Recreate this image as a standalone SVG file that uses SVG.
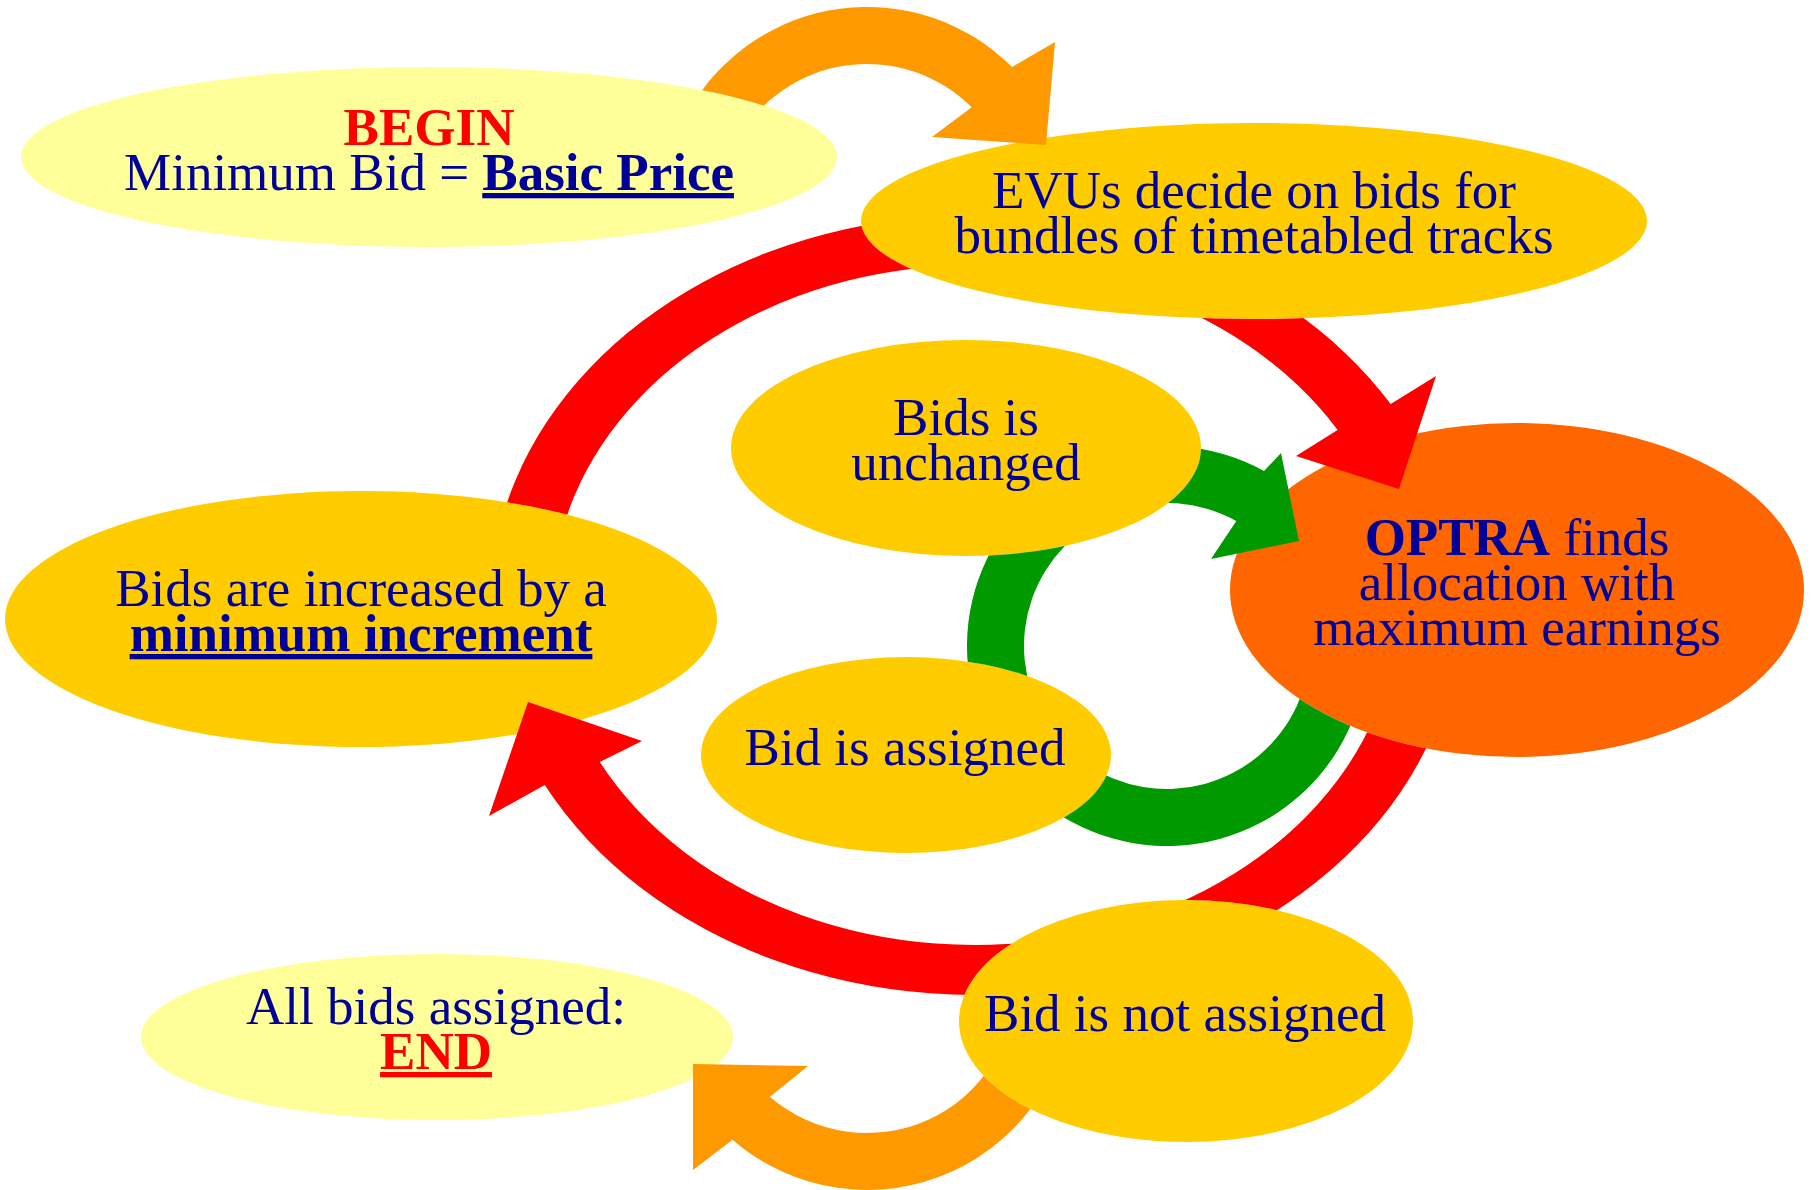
<svg xmlns="http://www.w3.org/2000/svg" width="1814" height="1190" viewBox="0 0 1814 1190">
<style>
.t{font-family:"Liberation Serif","Times New Roman",serif;font-size:53px;fill:#000099;text-anchor:middle}
.b{font-weight:bold}
.u{text-decoration:underline}
.r{fill:#FF0000}
.lt{fill:#FFFF99}
.gd{fill:#FFCC00}
.or{fill:#FF6600}
.red{fill:#FF0000}
.grn{fill:#009900}
.ora{fill:#FF9900}
</style>
<defs>
<mask id="mTR" maskUnits="userSpaceOnUse" x="0" y="0" width="1814" height="1190">
<rect width="1814" height="1190" fill="#fff"/>
<ellipse cx="361" cy="619" rx="356" ry="128" fill="#000"/>
<ellipse cx="1254" cy="221" rx="393" ry="98" fill="#000"/>
</mask>
<mask id="mBR" maskUnits="userSpaceOnUse" x="0" y="0" width="1814" height="1190">
<rect width="1814" height="1190" fill="#fff"/>
<ellipse cx="1517" cy="590" rx="287" ry="167" fill="#000"/>
<ellipse cx="1186" cy="1021" rx="227" ry="121" fill="#000"/>
</mask>
<mask id="mG" maskUnits="userSpaceOnUse" x="0" y="0" width="1814" height="1190">
<rect width="1814" height="1190" fill="#fff"/>
<ellipse cx="1517" cy="590" rx="287" ry="167" fill="#000"/>
<ellipse cx="966" cy="448" rx="235" ry="108" fill="#000"/>
<ellipse cx="906" cy="755" rx="205" ry="98" fill="#000"/>
<polygon points="1262,468 1282,450 1302,543 1208,562 1233,522" fill="#fff"/>
</mask>
<mask id="mOT" maskUnits="userSpaceOnUse" x="0" y="0" width="1814" height="1190">
<rect width="1814" height="1190" fill="#fff"/>
<ellipse cx="429" cy="157" rx="408" ry="90" fill="#000"/>
</mask>
<mask id="mOB" maskUnits="userSpaceOnUse" x="0" y="0" width="1814" height="1190">
<rect width="1814" height="1190" fill="#fff"/>
<ellipse cx="1186" cy="1021" rx="227" ry="121" fill="#000"/>
</mask>
</defs>
<rect width="1814" height="1190" fill="#fff"/>
<g id="nodes">
<g id="begin">
<ellipse class="lt" cx="429" cy="157" rx="408" ry="90"/>
<text class="t"><tspan class="b r" x="429" y="145">BEGIN</tspan><tspan x="429" y="190">Minimum Bid = <tspan class="b u">Basic Price</tspan></tspan></text>
</g>
<g id="evus">
<ellipse class="gd" cx="1254" cy="221" rx="393" ry="98"/>
<text class="t"><tspan x="1254" y="208">EVUs decide on bids for</tspan><tspan x="1254" y="253">bundles of timetabled tracks</tspan></text>
</g>
<g id="unchanged">
<ellipse class="gd" cx="966" cy="448" rx="235" ry="108"/>
<text class="t"><tspan x="966" y="435">Bids is</tspan><tspan x="966" y="480">unchanged</tspan></text>
</g>
<g id="optra">
<ellipse class="or" cx="1517" cy="590" rx="287" ry="167"/>
<text class="t"><tspan x="1517" y="555"><tspan class="b">OPTRA</tspan> finds</tspan><tspan x="1517" y="600">allocation with</tspan><tspan x="1517" y="645">maximum earnings</tspan></text>
</g>
<g id="increased">
<ellipse class="gd" cx="361" cy="619" rx="356" ry="128"/>
<text class="t"><tspan x="361" y="606">Bids are increased by a</tspan><tspan class="b u" x="361" y="651">minimum increment</tspan></text>
</g>
<g id="assigned">
<ellipse class="gd" cx="906" cy="755" rx="205" ry="98"/>
<text class="t" x="905" y="765">Bid is assigned</text>
</g>
<g id="notassigned">
<ellipse class="gd" cx="1186" cy="1021" rx="227" ry="121"/>
<text class="t" x="1185" y="1031">Bid is not assigned</text>
</g>
<g id="end">
<ellipse class="lt" cx="437" cy="1037" rx="296" ry="83"/>
<text class="t"><tspan x="436" y="1024">All bids assigned:</tspan><tspan class="b u r" x="436" y="1069">END</tspan></text>
</g>
</g>
<g id="connectors">
<path class="red" mask="url(#mTR)" d="M 490 605 A 485 390 0 0 1 1390.7 404.1 L 1436 376 L 1399 489 L 1296 456 L 1337.6 429.9 A 423 340 0 0 0 552 605 Z"/>
<path class="red" mask="url(#mBR)" d="M 1460 605 A 485 390 0 0 1 544.8 785.1 L 489 816 L 528 702 L 642 741 L 599.8 762 A 423 340 0 0 0 1398 605 Z"/>
<path class="grn" mask="url(#mG)" d="M 1367 646 A 200 200 0 1 1 1264 471.1 L 1281 453 L 1299 541 L 1211 559 L 1236.3 520.9 A 143 143 0 1 0 1310 646 Z"/>
<path class="ora" mask="url(#mOT)" d="M 689.5 109.5 A 205 205 0 0 1 1012 67 L 1055 42 L 1046 145 L 932 137 L 971.7 107.3 A 148 148 0 0 0 738.8 138 Z"/>
<path class="ora" mask="url(#mOB)" d="M 1072 985 A 205 205 0 0 1 732.5 1139.7 L 693 1170 L 693 1064 L 808 1066 L 769.9 1096.7 A 148 148 0 0 0 1015 985 Z"/>
</g>
</svg>
